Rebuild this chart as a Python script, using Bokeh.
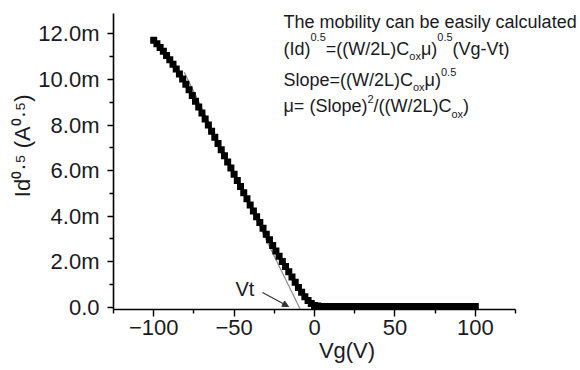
from bokeh.plotting import figure
from bokeh.models import FixedTicker, CustomJSTickFormatter, Label, Arrow, NormalHead
from bokeh.embed import file_html
from bokeh.resources import INLINE

# ---------------- data ----------------
vg = [-100, -98, -96, -94, -92, -90, -88, -86, -84, -82,
      -80, -78, -76, -74, -72, -70, -68, -66, -64, -62,
      -60, -58, -56, -54, -52, -50, -48, -46, -44, -42,
      -40, -38, -36, -34, -32, -30, -28, -26, -24, -22,
      -20, -18, -16, -14, -12, -10, -8, -6, -4, -2,
      0, 2, 4, 6, 8, 10, 12, 14, 16, 18,
      20, 22, 24, 26, 28, 30, 32, 34, 36, 38,
      40, 42, 44, 46, 48, 50, 52, 54, 56, 58,
      60, 62, 64, 66, 68, 70, 72, 74, 76, 78,
      80, 82, 84, 86, 88, 90, 92, 94, 96, 98, 100]
# sqrt(Id) in units of 1e-3 A^0.5 ("m")
id_sqrt_m = [11.72, 11.57, 11.41, 11.24, 11.06, 10.87, 10.67, 10.46, 10.24, 10.02,
             9.79, 9.55, 9.30, 9.05, 8.79, 8.53, 8.27, 8.00, 7.73, 7.46,
             7.19, 6.92, 6.65, 6.38, 6.11, 5.84, 5.57, 5.30, 5.03, 4.76,
             4.49, 4.23, 3.97, 3.72, 3.47, 3.21, 2.96, 2.71, 2.47, 2.24,
             2.01, 1.79, 1.56, 1.33, 1.10, 0.87, 0.66, 0.46, 0.29, 0.16,
             0.08, 0.05, 0.03, 0.03, 0.03, 0.03, 0.03, 0.03, 0.03, 0.03,
             0.03, 0.03, 0.03, 0.03, 0.03, 0.03, 0.03, 0.03, 0.03, 0.03,
             0.03, 0.03, 0.03, 0.03, 0.03, 0.03, 0.03, 0.03, 0.03, 0.03,
             0.03, 0.03, 0.03, 0.03, 0.03, 0.03, 0.03, 0.03, 0.03, 0.03,
             0.03, 0.03, 0.03, 0.03, 0.03, 0.03, 0.03, 0.03, 0.03, 0.03, 0.03]
# linear-fit (tangent) line used to extract Vt
fit_vg = [-81.0, -7.0]
fit_id_m = [10.32, -0.36]

x_ticks = [-100, -50, 0, 50, 100]
x_minor_ticks = [-125, -75, -25, 25, 75, 125]
y_ticks = [0, 2, 4, 6, 8, 10, 12]
y_minor_ticks = [1, 3, 5, 7, 9, 11]

X_AXIS = (-125, 125)      # extent of the drawn x axis
Y_AXIS = (-0.1, 12.9)     # extent of the drawn y axis

# ---------------- layout ----------------
FONT = "Liberation Sans"
TXT = "#1a1a22"
W, H = 580, 370
AX_L, AX_R, AX_T, AX_B = 113, 515, 13, 309   # pixel ends of the axis lines
KX = (AX_R - AX_L) / (X_AXIS[1] - X_AXIS[0])   # px per V
KY = (AX_B - AX_T) / (Y_AXIS[1] - Y_AXIS[0])   # px per mA^0.5
# the frame reaches the right and top canvas edges so the formula text fits inside it
X_RANGE = (X_AXIS[0], X_AXIS[1] + (W - AX_R) / KX)
Y_RANGE = (Y_AXIS[0], Y_AXIS[1] + AX_T / KY)


def px_x(px):
    return X_AXIS[0] + (px - AX_L) / KX


def px_y(py):
    return Y_AXIS[0] + (AX_B - py) / KY


p = figure(width=W, height=H, x_range=X_RANGE, y_range=Y_RANGE,
           output_backend="svg", toolbar_location=None,
           min_border_left=AX_L, min_border_right=0,
           min_border_top=0, min_border_bottom=H - AX_B)
p.outline_line_color = None
p.grid.visible = False
p.background_fill_color = "white"
p.border_fill_color = "white"

# tangent line (under the data)
p.add_layout(Arrow(x_start=fit_vg[0], y_start=fit_id_m[0], x_end=fit_vg[1], y_end=fit_id_m[1],
                   end=None, line_color="#8c8c8c", line_width=1.2, level="underlay"))

p.scatter(vg, id_sqrt_m, marker="square", size=7, fill_color="black", line_color=None)

# ---------------- axes ----------------
xa = p.xaxis[0]
xa.bounds = X_AXIS
xa.ticker = FixedTicker(ticks=x_ticks, minor_ticks=x_minor_ticks)
xa.major_tick_out = 7
xa.major_tick_in = 0
xa.minor_tick_out = 4
xa.minor_tick_in = 0
xa.axis_line_width = 1.6
xa.major_tick_line_width = 1.4
xa.minor_tick_line_width = 1.4
xa.major_label_text_font = FONT
xa.major_label_text_font_size = "22px"
xa.major_label_text_color = TXT
xa.major_label_standoff = 3
xa.axis_label = "Vg(V)"
xa.axis_label_text_font = FONT
xa.axis_label_text_font_size = "22px"
xa.axis_label_text_font_style = "normal"
xa.axis_label_text_color = TXT
xa.axis_label_standoff = 0

ya = p.yaxis[0]
ya.bounds = Y_AXIS
ya.ticker = FixedTicker(ticks=y_ticks, minor_ticks=y_minor_ticks)
ya.formatter = CustomJSTickFormatter(code="return tick == 0 ? '0.0' : tick.toFixed(1) + 'm';")
ya.major_tick_out = 6
ya.major_tick_in = 0
ya.minor_tick_out = 4
ya.minor_tick_in = 0
ya.axis_line_width = 1.6
ya.major_tick_line_width = 1.4
ya.minor_tick_line_width = 1.4
ya.major_label_text_font = FONT
ya.major_label_text_font_size = "22px"
ya.major_label_text_color = TXT
ya.major_label_standoff = 8
# leading no-break spaces nudge the (centred) title up to where the reference has it
ya.axis_label = "\u00a0\u00a0\u00a0Id\u2070\u00b7\u2075 (A\u2070\u00b7\u2075)"
ya.axis_label_text_font = FONT
ya.axis_label_text_font_size = "22px"
ya.axis_label_text_font_style = "normal"
ya.axis_label_text_color = TXT
ya.axis_label_standoff = 0


def lab(px, base, text, size, color=TXT):
    """Horizontal text whose left end is at px and whose baseline is at pixel row base."""
    p.add_layout(Label(x=px_x(px), y=px_y(base - 0.35 * size), text=text,
                       text_font=FONT, text_font_size=f"{size}px", text_color=color,
                       text_align="left", text_baseline="middle"))


# formula block
lab(283, 28, "The mobility can be easily calculated", 18)

lab(283, 55, "(Id)", 18)
lab(310, 40, "0.5", 11)
lab(325.3, 55, "=((W/2L)C", 18)
lab(408.8, 59, "ox", 11)
lab(420.4, 55, "μ)", 18)
lab(436.8, 40, "0.5", 11)
lab(452.1, 55, "(Vg-Vt)", 18)

lab(283, 86, "Slope=((W/2L)C", 18)
lab(412.5, 90, "ox", 11)
lab(424.1, 86, "μ)", 18)
lab(440.5, 75, "0.5", 11)

lab(283, 112, "μ= (Slope)", 18)
lab(366.9, 102, "2", 11)
lab(373, 112, "/((W/2L)C", 18)
lab(451, 117, "ox", 11)
lab(462.6, 112, ")", 18)

# Vt annotation
lab(235, 295, "Vt", 20)
p.add_layout(Arrow(x_start=px_x(262), y_start=px_y(292), x_end=px_x(288), y_end=px_y(306),
                   line_color="#333333", line_width=1.2,
                   end=NormalHead(size=6, fill_color="#333333", line_color="#333333")))

open("out.html", "w").write(file_html(p, INLINE))
